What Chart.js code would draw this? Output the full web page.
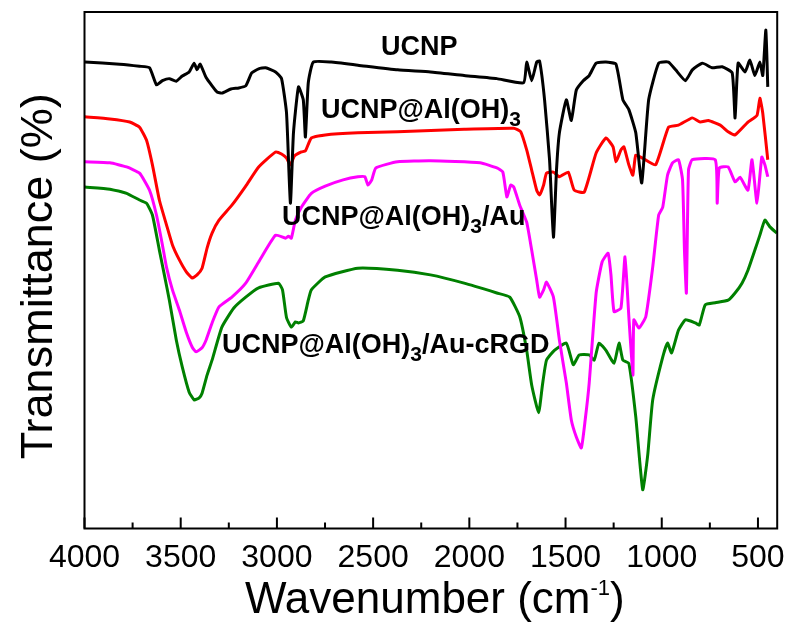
<!DOCTYPE html>
<html>
<head>
<meta charset="utf-8">
<script src="https://cdn.jsdelivr.net/npm/chart.js@4.4.0/dist/chart.umd.min.js"></script>
<style>
html, body { margin: 0; padding: 0; background: #fff; }
#caja { width: 795px; height: 632px; }
</style>
</head>
<body>
<div id="caja"><canvas id="grafico"></canvas></div>
<script>
// Espectros FTIR: numero de onda (cm-1) y transmitancia (u.a.)
const ucnpX = [3998, 3817, 3714, 3662, 3626, 3595, 3559, 3523, 3492, 3456, 3430, 3415, 3399, 3368, 3337, 3311, 3286, 3239, 3198, 3162, 3131, 3095, 3059, 3007, 2976, 2950, 2930, 2914, 2888, 2863, 2852, 2837, 2811, 2718, 2579, 2373, 2202, 2027, 1857, 1718, 1702, 1676, 1650, 1635, 1609, 1583, 1563, 1547, 1532, 1496, 1470, 1444, 1408, 1377, 1341, 1290, 1238, 1202, 1171, 1135, 1104, 1068, 1016, 965, 928, 877, 841, 789, 738, 686, 634, 619, 603, 567, 542, 516, 490, 475, 459, 449];
const ucnpY = [90.3, 89.9, 89.5, 89.2, 85.9, 86.7, 87.1, 86.6, 87.6, 88.4, 90.1, 88.8, 89.9, 87.3, 85.7, 84.5, 84.3, 85.1, 85.3, 85.7, 88.2, 89.0, 89.2, 88.4, 87.1, 80.4, 63.0, 76.6, 85.5, 83.0, 75.8, 86.3, 90.3, 90.3, 89.7, 88.8, 88.4, 87.7, 87.1, 86.3, 90.3, 86.7, 90.3, 90.5, 83.0, 71.3, 56.4, 69.4, 76.6, 83.0, 79.0, 84.9, 86.7, 87.7, 90.1, 90.3, 89.9, 83.0, 81.1, 76.6, 66.9, 83.0, 90.1, 90.3, 88.8, 86.7, 88.8, 90.1, 89.2, 89.4, 88.2, 79.5, 90.1, 88.4, 90.7, 87.7, 90.3, 87.7, 96.5, 85.5];

const alohX = [3998, 3868, 3765, 3714, 3678, 3647, 3611, 3574, 3543, 3507, 3471, 3440, 3415, 3389, 3363, 3337, 3301, 3234, 3162, 3095, 3007, 2976, 2950, 2930, 2909, 2873, 2852, 2821, 2749, 2579, 2373, 2027, 1769, 1733, 1702, 1676, 1650, 1635, 1614, 1599, 1563, 1532, 1486, 1455, 1403, 1341, 1290, 1253, 1238, 1212, 1197, 1171, 1150, 1135, 1099, 1032, 965, 913, 841, 800, 758, 696, 655, 619, 552, 505, 490, 475, 449];
const alohY = [79.7, 79.3, 78.7, 77.7, 75.2, 70.4, 63.6, 58.8, 54.9, 52.0, 49.7, 48.5, 49.1, 50.4, 54.3, 57.2, 59.7, 62.6, 66.3, 70.0, 72.9, 72.5, 71.7, 70.4, 72.1, 72.9, 73.1, 75.6, 76.2, 76.6, 76.8, 77.3, 77.5, 76.8, 73.3, 69.4, 65.5, 64.6, 66.5, 68.8, 69.0, 68.1, 69.0, 65.5, 65.1, 72.7, 75.6, 73.9, 71.0, 73.3, 73.9, 70.4, 68.4, 72.3, 71.7, 70.4, 77.7, 78.1, 79.5, 78.7, 79.0, 78.1, 76.8, 76.2, 78.7, 80.0, 83.3, 80.4, 71.4];

const auX = [3998, 3868, 3781, 3714, 3662, 3626, 3595, 3574, 3543, 3507, 3471, 3440, 3420, 3389, 3368, 3337, 3301, 3234, 3162, 3095, 3007, 2955, 2940, 2925, 2904, 2873, 2821, 2749, 2656, 2579, 2543, 2527, 2507, 2486, 2373, 2202, 1944, 1857, 1826, 1805, 1785, 1769, 1738, 1702, 1676, 1650, 1635, 1614, 1599, 1563, 1532, 1496, 1470, 1444, 1418, 1398, 1377, 1341, 1310, 1279, 1264, 1248, 1212, 1191, 1171, 1150, 1145, 1119, 1083, 1047, 1016, 995, 970, 944, 913, 892, 882, 872, 861, 841, 722, 712, 701, 655, 619, 593, 552, 531, 505, 480, 464, 449];
const auY = [71.0, 70.8, 70.0, 68.8, 65.5, 60.7, 54.9, 50.6, 46.2, 42.3, 38.0, 35.1, 34.2, 35.0, 36.5, 39.8, 42.9, 44.8, 47.5, 51.6, 56.8, 56.2, 56.6, 56.2, 59.7, 62.2, 64.9, 66.3, 67.5, 68.1, 68.1, 66.5, 67.5, 69.8, 71.0, 71.2, 70.8, 69.8, 69.0, 64.2, 66.5, 66.1, 62.6, 59.3, 53.9, 48.1, 44.8, 46.2, 47.7, 44.8, 36.5, 28.2, 21.0, 17.7, 15.6, 21.0, 28.2, 45.6, 51.6, 53.3, 49.1, 42.0, 42.7, 52.6, 41.0, 29.7, 40.4, 38.8, 41.0, 50.6, 60.7, 62.2, 68.4, 70.8, 71.4, 67.5, 53.9, 45.6, 69.4, 71.4, 71.4, 63.0, 69.8, 70.0, 67.1, 68.0, 65.5, 71.4, 63.0, 71.9, 70.4, 68.1];

const rgdX = [3998, 3868, 3781, 3714, 3678, 3647, 3611, 3585, 3559, 3523, 3492, 3456, 3430, 3404, 3389, 3363, 3337, 3286, 3224, 3162, 3095, 2992, 2971, 2950, 2925, 2904, 2888, 2863, 2837, 2821, 2749, 2579, 2373, 2202, 2027, 1857, 1790, 1738, 1702, 1676, 1640, 1620, 1599, 1558, 1496, 1460, 1429, 1377, 1351, 1326, 1290, 1248, 1222, 1202, 1171, 1135, 1099, 1073, 1047, 995, 970, 949, 913, 877, 825, 805, 774, 722, 655, 619, 583, 552, 516, 490, 464, 438, 402];
const rgdY = [66.1, 65.7, 64.9, 63.6, 63.0, 60.7, 53.9, 49.1, 44.2, 36.5, 31.3, 26.4, 24.9, 25.3, 26.2, 29.7, 32.6, 39.0, 42.7, 44.8, 46.6, 47.5, 46.2, 40.8, 39.0, 40.0, 39.8, 40.2, 44.2, 46.2, 48.7, 50.4, 50.0, 49.1, 47.5, 45.6, 44.8, 41.0, 34.5, 27.8, 22.4, 27.8, 32.6, 34.5, 35.9, 31.7, 33.6, 33.6, 32.6, 35.9, 34.5, 32.0, 35.9, 32.6, 32.0, 21.6, 7.5, 14.2, 24.9, 33.2, 35.9, 34.0, 38.4, 40.4, 39.8, 39.4, 43.3, 43.7, 44.2, 45.6, 47.5, 50.0, 53.9, 56.8, 59.7, 58.4, 57.2];

// Marcas del eje x
const xTicks = [4000, 3500, 3000, 2500, 2000, 1500, 1000, 500];
const xMinorTicks = [3750, 3250, 2750, 2250, 1750, 1250, 750];

const fuente = "'Liberation Sans', Arial, sans-serif";

function puntos(xs, ys) {
    return xs.map((v, i) => ({ x: v, y: ys[i] }));
}

// Texto con sub/superindices: partes = [{t, f, dy}]
function textoRico(ctx, partes, x, y) {
    let cx = x;
    partes.forEach(p => {
        ctx.font = p.f;
        ctx.fillText(p.t, cx, y + (p.dy || 0));
        cx += ctx.measureText(p.t).width;
    });
}

const negrita = '700 27px ' + fuente;
const sub = '700 21px ' + fuente;

const marco = {
    id: 'marco',
    afterDraw(chart) {
        const { ctx, chartArea: a, scales: { x } } = chart;
        ctx.save();
        ctx.strokeStyle = '#000';
        ctx.lineWidth = 2;
        ctx.strokeRect(a.left, a.top, a.right - a.left, a.bottom - a.top);

        // marcas hacia dentro
        ctx.beginPath();
        xTicks.forEach(v => {
            const px = x.getPixelForValue(v);
            ctx.moveTo(px, a.bottom);
            ctx.lineTo(px, a.bottom - 11);
        });
        xMinorTicks.forEach(v => {
            const px = x.getPixelForValue(v);
            ctx.moveTo(px, a.bottom);
            ctx.lineTo(px, a.bottom - 6);
        });
        ctx.stroke();

        ctx.fillStyle = '#000';
        ctx.textBaseline = 'alphabetic';
        ctx.textAlign = 'left';

        // etiquetas de las curvas
        textoRico(ctx, [{ t: 'UCNP', f: negrita }], 381, 55);
        textoRico(ctx, [{ t: 'UCNP@Al(OH)', f: negrita }, { t: '3', f: sub, dy: 8 }], 321, 118);
        textoRico(ctx, [{ t: 'UCNP@Al(OH)', f: negrita }, { t: '3', f: sub, dy: 8 }, { t: '/Au', f: negrita }], 282, 225);
        textoRico(ctx, [{ t: 'UCNP@Al(OH)', f: negrita }, { t: '3', f: sub, dy: 8 }, { t: '/Au-cRGD', f: negrita }], 222, 353);

        // titulo eje x
        const tx = '44px ' + fuente;
        const sup = '22px ' + fuente;
        ctx.font = tx;
        const w1 = ctx.measureText('Wavenumber (cm').width;
        ctx.font = sup;
        const w2 = ctx.measureText('-1').width;
        ctx.font = tx;
        const w3 = ctx.measureText(')').width;
        const x0 = (a.left + a.right) / 2 - (w1 + w2 + w3) / 2 + 4;
        textoRico(ctx, [
            { t: 'Wavenumber (cm', f: tx },
            { t: '-1', f: sup, dy: -18 },
            { t: ')', f: tx }
        ], x0, 613);

        // titulo eje y
        ctx.translate(52, (a.top + a.bottom) / 2 + 6);
        ctx.rotate(-Math.PI / 2);
        ctx.textAlign = 'center';
        ctx.font = '45px ' + fuente;
        ctx.fillText('Transmittance (%)', 0, 0);
        ctx.restore();
    }
};

new Chart(document.getElementById('grafico').getContext('2d'), {
    type: 'line',
    data: {
        datasets: [
            { label: 'UCNP', data: puntos(ucnpX, ucnpY), borderColor: '#000000' },
            { label: 'UCNP@Al(OH)3', data: puntos(alohX, alohY), borderColor: '#ff0000' },
            { label: 'UCNP@Al(OH)3/Au', data: puntos(auX, auY), borderColor: '#ff00ff' },
            { label: 'UCNP@Al(OH)3/Au-cRGD', data: puntos(rgdX, rgdY), borderColor: '#008000' }
        ]
    },
    options: {
        responsive: true,
        maintainAspectRatio: false,
        animation: false,
        datasets: {
            line: { borderWidth: 3, pointRadius: 0, tension: 0.15, fill: false }
        },
        layout: { padding: { left: 84.5, right: 12.3, top: 12, bottom: 0 } },
        plugins: {
            legend: { display: false },
            tooltip: { enabled: false }
        },
        scales: {
            x: {
                type: 'linear',
                reverse: true,
                min: 400,
                max: 4000,
                afterBuildTicks: s => { s.ticks = xTicks.map(v => ({ value: v })); },
                afterFit: s => { s.height = 632 - 528.5; },
                grid: { display: false, drawTicks: false },
                border: { display: false },
                ticks: {
                    color: '#000',
                    font: { family: fuente, size: 32 },
                    padding: 10,
                    maxRotation: 0,
                    autoSkip: false,
                    callback: v => String(v)
                }
            },
            y: {
                display: false,
                min: 0,
                max: 100
            }
        }
    },
    plugins: [marco]
});
</script>
</body>
</html>
